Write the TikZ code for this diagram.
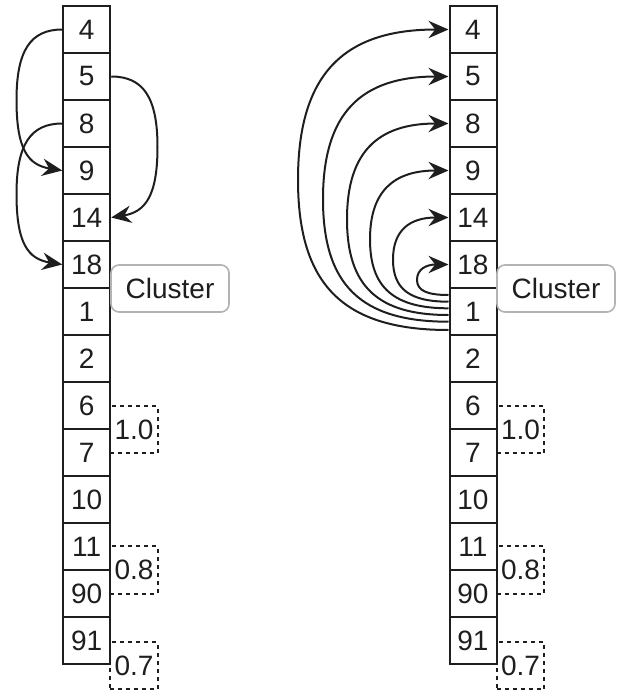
\documentclass[tikz,border=0pt]{standalone}
\usepackage{fontspec}
\setmainfont{Liberation Sans}
\usetikzlibrary{arrows.meta,calc}
\definecolor{ink}{HTML}{1E1E1E}
\definecolor{clborder}{HTML}{B3B3B3}
\begin{document}
\begin{tikzpicture}[x=0.75pt,y=-0.75pt,
  cell/.style={draw=ink,line width=1.5pt,minimum width=35.25pt,minimum height=35.25pt,inner sep=0pt,text=ink,font=\fontsize{21}{24}\selectfont},
  clusterbox/.style={draw=clborder,line width=1.2pt,rounded corners=6pt,minimum width=88.5pt,minimum height=35.25pt,inner sep=0pt,text=ink,fill=white,font=\fontsize{21}{24}\selectfont},
  simbox/.style={draw=ink,line width=1.4pt,dash pattern=on 3pt off 3pt,minimum width=35.5pt,minimum height=35.5pt,inner sep=0pt,text=ink,font=\fontsize{21}{24}\selectfont},
  arr/.style={draw=ink,line width=1.5pt,-{Stealth[length=15pt,width=13pt,inset=5pt]}}]
\useasboundingbox (0,0) rectangle (617,690);
% dashed similarity boxes
\node[simbox] (LS1) at (134,429.5) {1.0};
\node[simbox] (LS2) at (134,570) {0.8};
\node[simbox] (LS3) at (134,665.5) {0.7};
\node[simbox] (RS1) at (520.5,429.5) {1.0};
\node[simbox] (RS2) at (520.5,570) {0.8};
\node[simbox] (RS3) at (520.5,665.5) {0.7};
% cells
\foreach \lab [count=\i from 0] in {4,5,8,9,14,18,1,2,6,7,10,11,90,91}{
  \node[cell] (L\lab) at (86.75,{29.5+47*\i}) {\lab};
  \node[cell] (R\lab) at (473,{29.5+47*\i}) {\lab};
}
% cluster labels
\node[clusterbox] (LC) at (170,288.5) {Cluster};
\node[clusterbox] (RC) at (556,288.5) {Cluster};
% left connectors
\draw[arr] (L4.west) .. controls (30.4,29.5) and (16.5,50.6) .. (16.5,100)
  .. controls (16.5,149.4) and (28,165) .. (L9.west);
\draw[arr] (L8.west) .. controls (30.4,123.5) and (16.5,144.6) .. (16.5,194)
  .. controls (16.5,243.4) and (28,259) .. (L18.west);
\draw[arr] (L5.east) .. controls (143.4,76.5) and (157.5,97.6) .. (157.5,147)
  .. controls (157.5,196.4) and (145,212) .. (L14.east);
% right connectors
\draw[arr] ($(R1.west)+(0,-16.5)$) .. controls (426.6,295) and (417,290.45) .. (417,279.75)
  .. controls (417,269.05) and (426.6,264.5) .. (R18.west);
\draw[arr] ($(R1.west)+(0,-9.8)$) .. controls (409.8,301.7) and (393,289.1) .. (393,259.6)
  .. controls (393,230.1) and (409.8,217.5) .. (R14.west);
\draw[arr] ($(R1.west)+(0,-3.2)$) .. controls (393.7,308.3) and (370,287.6) .. (370,239.4)
  .. controls (370,191.2) and (393.7,170.5) .. (R9.west);
\draw[arr] ($(R1.west)+(0,3.5)$) .. controls (377.6,315) and (347,286.25) .. (347,219.25)
  .. controls (347,152.25) and (377.6,123.5) .. (R8.west);
\draw[arr] ($(R1.west)+(0,10.2)$) .. controls (360.8,321.7) and (323,284.9) .. (323,199.1)
  .. controls (323,113.3) and (360.8,76.5) .. (R5.west);
\draw[arr] ($(R1.west)+(0,18.5)$) .. controls (343.3,330) and (298,284.95) .. (298,179.75)
  .. controls (298,74.55) and (343.3,29.5) .. (R4.west);
\end{tikzpicture}
\end{document}
